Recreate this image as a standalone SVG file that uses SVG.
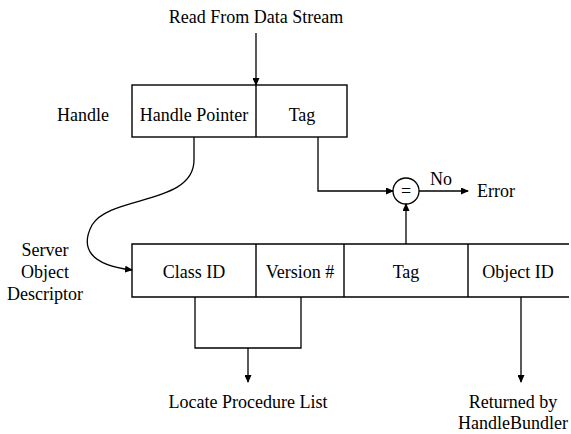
<svg xmlns="http://www.w3.org/2000/svg" width="571" height="434" viewBox="0 0 571 434">
  <style>
    .box { fill: none; stroke: #000; stroke-width: 1.4; }
    .ln { fill: none; stroke: #000; stroke-width: 1.3; }
    text { font-family: "Liberation Serif", "Times New Roman", "DejaVu Serif", serif; font-size: 18px; fill: #000; }
    .c { text-anchor: middle; }
  </style>
  <defs>
    <marker id="arr" markerWidth="8" markerHeight="7" refX="7" refY="3.5" orient="auto" markerUnits="userSpaceOnUse">
      <path d="M0,0 L8,3.5 L0,7 Z" fill="#000"/>
    </marker>
  </defs>

  <rect width="571" height="434" fill="#fff"/>

  <!-- labels -->
  <text class="c" x="256" y="23" font-family="Liberation Serif, serif">Read From Data Stream</text>
  <text x="57" y="121">Handle</text>
  <text class="c" x="45" y="256">Server</text>
  <text class="c" x="45" y="278">Object</text>
  <text class="c" x="45" y="300">Descriptor</text>

  <!-- handle record -->
  <g id="handle">
    <rect class="box" x="132" y="85" width="215" height="52"/>
    <line class="box" x1="256" y1="85" x2="256" y2="137"/>
    <text class="c" x="194" y="121">Handle Pointer</text>
    <text class="c" x="302" y="121">Tag</text>
  </g>

  <!-- server object descriptor record -->
  <g id="descriptor">
    <path class="box" d="M569,244 H132 V297 H569"/>
    <line class="box" x1="256" y1="244" x2="256" y2="297"/>
    <line class="box" x1="344" y1="244" x2="344" y2="297"/>
    <line class="box" x1="468" y1="244" x2="468" y2="297"/>
    <text class="c" x="194" y="278">Class ID</text>
    <text class="c" x="300" y="278">Version #</text>
    <text class="c" x="406" y="278">Tag</text>
    <text class="c" x="518" y="278">Object ID</text>
  </g>

  <!-- tag comparison -->
  <g id="compare">
    <circle class="ln" cx="406" cy="191" r="13"/>
    <text class="c" x="406" y="197">=</text>
  </g>

  <g id="outputs">
    <text x="430" y="185">No</text>
    <text x="477" y="197">Error</text>
    <text class="c" x="248" y="408">Locate Procedure List</text>
    <text class="c" x="513" y="408">Returned by</text>
    <text class="c" x="513" y="429">HandleBundler</text>
  </g>

  <!-- connectors -->
  <g id="connectors">
    <line class="ln" x1="256" y1="33" x2="256" y2="85" marker-end="url(#arr)"/>
    <path class="ln" d="M194,137 V160 C194,205 110,195 92,225 C80,248 90,265 132,270" marker-end="url(#arr)"/>
    <path class="ln" d="M318,137 V191 H393" marker-end="url(#arr)"/>
    <line class="ln" x1="406" y1="244" x2="406" y2="204" marker-end="url(#arr)"/>
    <line class="ln" x1="419" y1="191" x2="468" y2="191" marker-end="url(#arr)"/>
    <path class="ln" d="M195,297 V348 H301 V297"/>
    <line class="ln" x1="248" y1="348" x2="248" y2="382" marker-end="url(#arr)"/>
    <line class="ln" x1="521" y1="297" x2="521" y2="382" marker-end="url(#arr)"/>
  </g>
</svg>
